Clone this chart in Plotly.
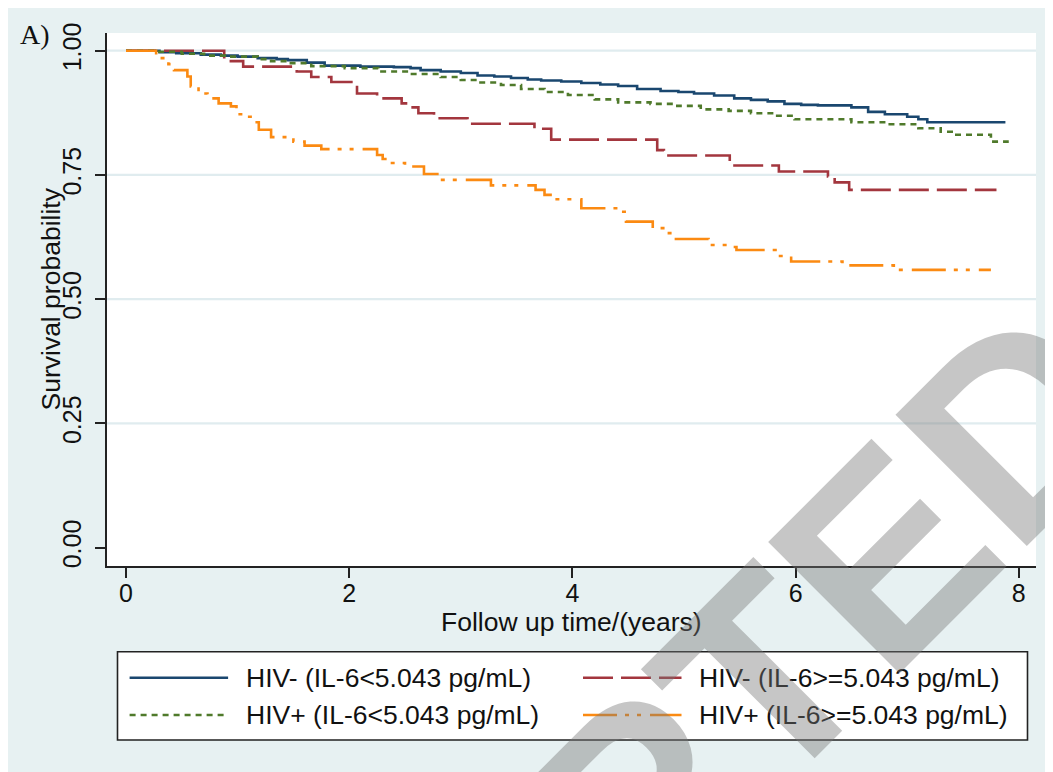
import plotly.graph_objects as go

# ---------------- data ----------------
blue_t = [0, 0.30, 0.45, 0.67, 0.85, 1.00, 1.18, 1.35, 1.45, 1.62, 1.78, 2.10, 2.40, 2.55, 2.64,
          2.82, 3.00, 3.15, 3.30, 3.45, 3.60, 3.72, 3.90, 4.08, 4.25, 4.41, 4.58, 4.79, 4.95, 5.09,
          5.27, 5.45, 5.60, 5.75, 5.90, 6.05, 6.20, 6.50, 6.65, 6.80, 7.00, 7.10, 7.18, 7.88]
blue_s = [1.0, 0.997, 0.995, 0.992, 0.990, 0.988, 0.985, 0.983, 0.981, 0.976, 0.970, 0.968, 0.967,
          0.965, 0.961, 0.958, 0.955, 0.950, 0.948, 0.945, 0.942, 0.940, 0.938, 0.935, 0.932, 0.929,
          0.923, 0.919, 0.917, 0.914, 0.910, 0.904, 0.901, 0.898, 0.893, 0.891, 0.890, 0.886, 0.877,
          0.872, 0.867, 0.862, 0.856, 0.856]

red_t = [0, 0.88, 1.05, 1.53, 1.66, 1.84, 2.07, 2.25, 2.47, 2.53, 2.62, 2.76, 3.06, 3.66, 3.81,
         4.76, 4.82, 5.41, 5.85, 6.29, 6.35, 6.48, 7.80]
red_s = [1.0, 0.979, 0.968, 0.958, 0.947, 0.937, 0.914, 0.904, 0.894, 0.886, 0.874, 0.864, 0.853,
         0.843, 0.821, 0.800, 0.789, 0.769, 0.757, 0.747, 0.735, 0.720, 0.720]

green_t = [0, 0.28, 0.50, 0.70, 0.91, 1.18, 1.30, 1.45, 1.66, 1.96, 2.26, 2.55, 2.82, 3.00, 3.15,
           3.36, 3.54, 3.75, 3.96, 4.20, 4.41, 4.70, 4.94, 5.15, 5.40, 5.60, 5.81, 5.99, 6.50, 6.83,
           7.10, 7.30, 7.42, 7.75, 7.91]
green_s = [1.0, 0.998, 0.994, 0.990, 0.988, 0.983, 0.979, 0.975, 0.969, 0.965, 0.958, 0.953, 0.947,
           0.941, 0.936, 0.931, 0.923, 0.917, 0.911, 0.902, 0.896, 0.893, 0.889, 0.882, 0.879, 0.874,
           0.869, 0.862, 0.856, 0.852, 0.844, 0.837, 0.831, 0.817, 0.817]

orange_t = [0, 0.27, 0.38, 0.43, 0.55, 0.58, 0.65, 0.73, 0.83, 0.94, 0.99, 1.08, 1.15, 1.19, 1.30,
            1.50, 1.60, 1.75, 2.25, 2.30, 2.36, 2.50, 2.67, 2.79, 3.27, 3.67, 3.75, 3.84, 4.08, 4.41,
            4.48, 4.72, 4.83, 4.91, 5.22, 5.39, 5.47, 5.82, 5.96, 6.42, 6.88, 7.75]
orange_s = [1.0, 0.985, 0.973, 0.961, 0.948, 0.928, 0.914, 0.904, 0.894, 0.888, 0.872, 0.867, 0.856,
            0.841, 0.826, 0.817, 0.809, 0.802, 0.790, 0.782, 0.774, 0.767, 0.752, 0.740, 0.729, 0.720,
            0.710, 0.701, 0.683, 0.676, 0.656, 0.643, 0.633, 0.621, 0.609, 0.605, 0.599, 0.587, 0.576,
            0.568, 0.559, 0.559]

labels = ["HIV- (IL-6<5.043 pg/mL)", "HIV- (IL-6>=5.043 pg/mL)",
          "HIV+ (IL-6<5.043 pg/mL)", "HIV+ (IL-6>=5.043 pg/mL)"]
y_ticks = [0.0, 0.25, 0.5, 0.75, 1.0]
y_ticktext = ["0.00", "0.25", "0.50", "0.75", "1.00"]
x_ticks = [0, 2, 4, 6, 8]
grid_vals = [0.25, 0.5, 0.75, 1.0]

# ---------------- layout geometry ----------------
OFF = 8                      # page body margin of the saved html
W, H = 1053 - OFF, 772 - OFF
# plot area in window pixels: x 107..1036, y 33..566
L, R, T, B = 107 - OFF, 1053 - 1036, 33 - OFF, 772 - 566
PW, PH = W - L - R, H - T - B
BG = "#e7f1f2"
FONT = "Liberation Sans, Arial, sans-serif"

def xp(px):          # window pixel -> paper fraction
    return (px - OFF - L) / PW

def yp(py):
    return (H - B - (py - OFF)) / PH

series = [
    (blue_t, blue_s, "#1a476f", "solid"),
    (red_t, red_s, "#a3363e", "30px,8px"),
    (green_t, green_s, "#4f7a2b", "6px,5px"),
    (orange_t, orange_s, "#fb8a12", "34px,8px,4px,8px,4px,9px"),
]

fig = go.Figure()
for (t, s, col, dash), name in zip(series, labels):
    fig.add_trace(go.Scatter(x=t, y=s, mode="lines", line_shape="hv", name=name,
                             line=dict(color=col, width=2.6, dash=dash), showlegend=False,
                             hoverinfo="skip"))

shapes = []
for g in grid_vals:
    shapes.append(dict(type="line", xref="paper", yref="y", x0=0, x1=1, y0=g, y1=g,
                       line=dict(color="#e0ecef", width=2.2), layer="below"))
# legend box
shapes.append(dict(type="rect", xref="paper", yref="paper", x0=xp(117.5), x1=xp(1027.5),
                   y0=yp(740), y1=yp(651.7), fillcolor="white",
                   line=dict(color="#222222", width=1.6), layer="above"))
leg_pos = [(129.6, 677.7), (583, 677.7), (129.6, 715), (583, 715)]
for (px0, py0), (t, s, col, dash) in zip(leg_pos, series):
    shapes.append(dict(type="line", xref="paper", yref="paper", x0=xp(px0), x1=xp(px0 + 98.5),
                       y0=yp(py0), y1=yp(py0), line=dict(color=col, width=2.6, dash=dash),
                       layer="above"))

annotations = []
for (px0, py0), name in zip(leg_pos, labels):
    annotations.append(dict(xref="paper", yref="paper", x=xp(px0 + 114), y=yp(py0), text=name,
                            showarrow=False, xanchor="left", yanchor="middle",
                            font=dict(family=FONT, size=26.5, color="#111111")))
annotations.append(dict(xref="paper", yref="paper", x=xp(571.5), y=yp(622), text="Follow up time/(years)",
                        showarrow=False, xanchor="center", yanchor="middle",
                        font=dict(family=FONT, size=26.5, color="#111111")))
annotations.append(dict(xref="paper", yref="paper", x=xp(50), y=yp(299.5), text="Survival probability",
                        showarrow=False, xanchor="center", yanchor="middle", textangle=-90,
                        font=dict(family=FONT, size=26.5, color="#111111")))
annotations.append(dict(xref="paper", yref="paper", x=xp(18), y=yp(34), text="A)",
                        showarrow=False, xanchor="left", yanchor="middle",
                        font=dict(family="Liberation Serif, Times New Roman, serif", size=28,
                                  color="#111111")))
# watermark
annotations.append(dict(xref="paper", yref="paper", x=xp(560), y=yp(880), text="<b>ACCEPTED</b>",
                        showarrow=False, xanchor="center", yanchor="middle", textangle=-45,
                        font=dict(family=FONT, size=270, color="rgba(120,120,120,0.42)")))

fig.update_layout(
    width=W, height=H, margin=dict(l=L, r=R, t=T, b=B, pad=0),
    paper_bgcolor=BG, plot_bgcolor="white",
    shapes=shapes, annotations=annotations, showlegend=False,
    xaxis=dict(range=[(107 - 126) / 111.6, (1036 - 126) / 111.6], tickvals=x_ticks,
               showgrid=False, zeroline=False, showline=True, linecolor="#222222", linewidth=1.8,
               ticks="outside", ticklen=10, tickwidth=1.6, tickcolor="#222222",
               ticklabelstandoff=-6,
               tickfont=dict(family=FONT, size=25, color="#111111"), mirror=False),
    yaxis=dict(range=[-0.0368, 1.0356], tickvals=y_ticks, ticktext=y_ticktext,
               showgrid=False, zeroline=False, showline=True, linecolor="#222222", linewidth=1.8,
               ticks="outside", ticklen=10, tickwidth=1.6, tickcolor="#222222", tickangle=-90,
               ticklabelstandoff=4,
               tickfont=dict(family=FONT, size=25, color="#111111"), mirror=False),
)

fig.write_html("out.html")
